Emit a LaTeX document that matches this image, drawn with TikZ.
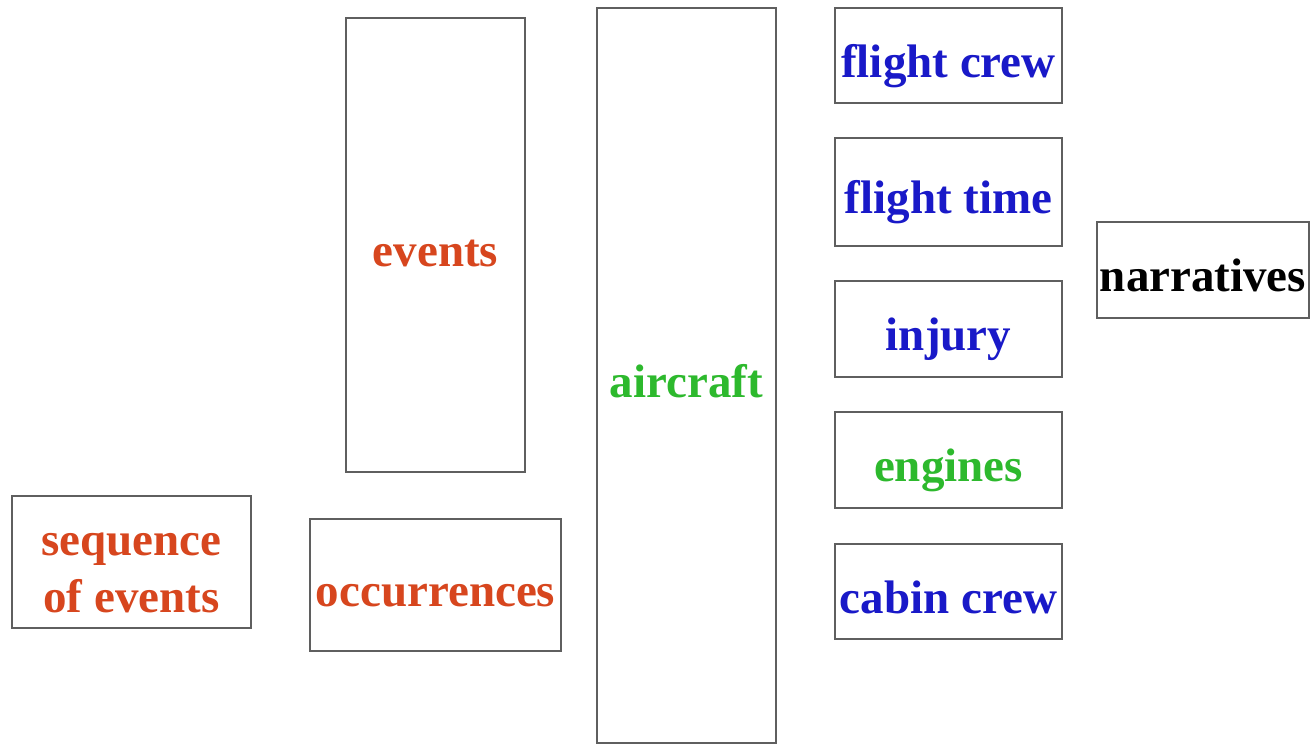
\documentclass[tikz,border=0pt]{standalone}
\usepackage{fontspec}
\setmainfont{Liberation Serif}
\definecolor{cred}{RGB}{215,70,30}
\definecolor{cblue}{RGB}{25,25,200}
\definecolor{cgreen}{RGB}{45,185,45}
\definecolor{cframe}{RGB}{95,95,95}
\tikzset{
  basebox/.style={draw=cframe, line width=2.6pt, inner sep=0pt, fill=white,
    font=\fontsize{47}{57}\selectfont\bfseries, align=center},
  box/.style={basebox, text height=47pt, text depth=4pt},
}
\begin{document}
\begin{tikzpicture}[x=1pt,y=-1pt]
\useasboundingbox[fill=white] (0,0) rectangle (1310,745);
\node[box, minimum width=179pt, minimum height=454pt, text=cred] (events) at (435.5,245) {events};
\node[box, minimum width=179pt, minimum height=735pt, text=cgreen] (aircraft) at (686.5,375.5) {aircraft};
\node[box, minimum width=227pt, minimum height=95pt, text=cblue] (fcrew) at (948.5,55.5) {flight crew};
\node[box, minimum width=227pt, minimum height=108pt, text=cblue] (ftime) at (948.5,192) {flight time};
\node[box, minimum width=227pt, minimum height=96pt, text=cblue] (injury) at (948.5,329) {injury};
\node[box, minimum width=227pt, minimum height=96pt, text=cgreen] (engines) at (948.5,460) {engines};
\node[box, minimum width=227pt, minimum height=95pt, text=cblue] (ccrew) at (948.5,591.5) {cabin crew};
\node[box, minimum width=212pt, minimum height=96pt, text=black] (narr) at (1203,270) {narratives};
\node[basebox, minimum width=239pt, minimum height=132pt, text=cred] (seq) at (131.5,562)
  {\rule{0pt}{46pt}sequence\\of events\rule[-3pt]{0pt}{3pt}};
\node[box, minimum width=251pt, minimum height=132pt, text=cred] (occ) at (435.5,585) {occurrences};
\end{tikzpicture}
\end{document}
